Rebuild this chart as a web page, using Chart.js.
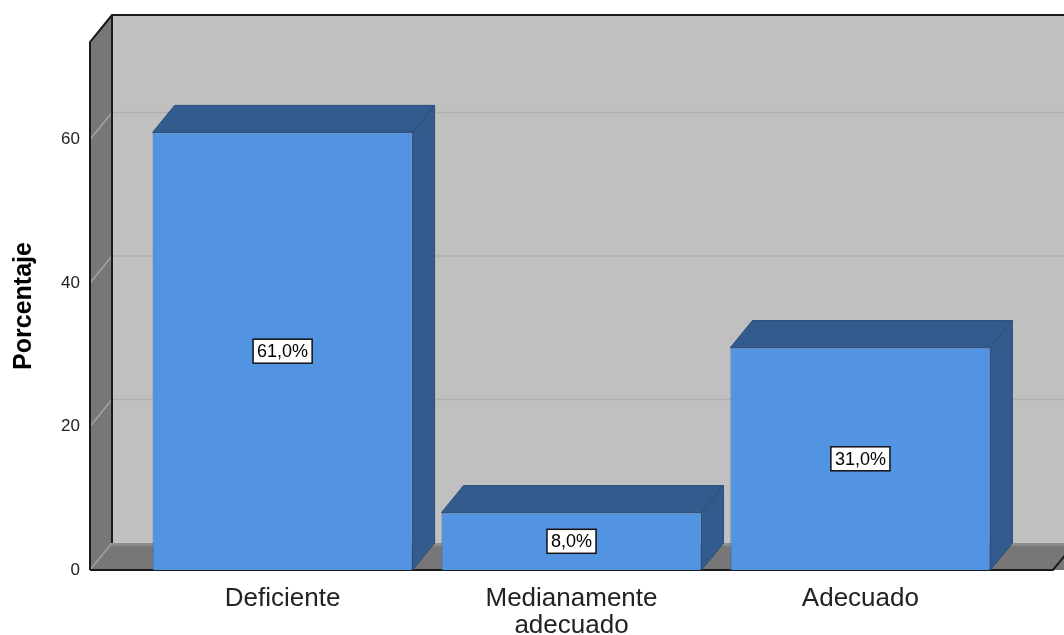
<!DOCTYPE html>
<html>
<head>
<meta charset="utf-8">
<script src="https://cdn.jsdelivr.net/npm/chart.js@4"></script>
<style>
  html, body { margin: 0; padding: 0; background: #fff; }
  #wrap { width: 1064px; height: 635px; }
</style>
</head>
<body>
<div id="wrap"><canvas id="porcentajeChart" width="1064" height="635"></canvas></div>
<script>
const categories = [['Deficiente'], ['Medianamente', 'adecuado'], ['Adecuado']];
const percentages = [61.0, 8.0, 31.0];
const yTicks = [0, 20, 40, 60];

// depth of the fake 3D box (pixels)
const DX = 22, DY = -27;

const frontColor = '#5294e2';
const sideColor = '#335b8e';

const box3d = {
  id: 'box3d',
  beforeDatasetsDraw(chart) {
    const { ctx, chartArea: a, scales: { y } } = chart;
    ctx.save();
    // back wall
    ctx.fillStyle = '#c0c0c0';
    ctx.fillRect(a.left + DX, a.top + DY, a.right - a.left + 20, a.bottom - a.top);
    // left wall
    ctx.fillStyle = '#777777';
    ctx.beginPath();
    ctx.moveTo(a.left, a.top);
    ctx.lineTo(a.left + DX, a.top + DY);
    ctx.lineTo(a.left + DX, a.bottom + DY);
    ctx.lineTo(a.left, a.bottom);
    ctx.closePath();
    ctx.fill();
    // floor
    ctx.beginPath();
    ctx.moveTo(a.left, a.bottom);
    ctx.lineTo(a.left + DX, a.bottom + DY);
    ctx.lineTo(a.right + DX + 20, a.bottom + DY);
    ctx.lineTo(a.right + 20, a.bottom);
    ctx.closePath();
    ctx.fill();
    ctx.fillStyle = '#8c8c8c';
    ctx.fillRect(a.left + DX, a.bottom + DY, a.right - a.left + 20, 3);

    // grid lines
    yTicks.forEach(v => {
      const py = y.getPixelForValue(v);
      ctx.lineWidth = 1.5;
      ctx.strokeStyle = '#a3a3a3';
      ctx.beginPath();
      ctx.moveTo(a.left, py);
      ctx.lineTo(a.left + DX, py + DY);
      ctx.stroke();
      if (v > 0) {
        ctx.strokeStyle = '#b0b0b0';
        ctx.beginPath();
        ctx.moveTo(a.left + DX, py + DY);
        ctx.lineTo(a.right + DX + 20, py + DY);
        ctx.stroke();
      }
    });

    // edges
    ctx.strokeStyle = '#1a1a1a';
    ctx.lineWidth = 2;
    ctx.beginPath();
    ctx.moveTo(a.left, a.bottom);
    ctx.lineTo(a.left, a.top);
    ctx.lineTo(a.left + DX, a.top + DY);
    ctx.lineTo(a.right + DX + 20, a.top + DY);
    ctx.moveTo(a.left + DX, a.top + DY);
    ctx.lineTo(a.left + DX, a.bottom + DY);
    ctx.moveTo(a.left, a.bottom);
    ctx.lineTo(a.right, a.bottom);
    ctx.lineTo(a.right + DX, a.bottom + DY);
    ctx.stroke();
    ctx.restore();
  },
  afterDatasetsDraw(chart) {
    const { ctx, scales: { y } } = chart;
    const meta = chart.getDatasetMeta(0);
    ctx.save();
    meta.data.forEach((bar, i) => {
      const left = bar.x - bar.width / 2;
      const right = bar.x + bar.width / 2;
      ctx.fillStyle = sideColor;
      ctx.strokeStyle = '#2b4d78';
      ctx.lineWidth = 1;
      // top face
      ctx.beginPath();
      ctx.moveTo(left, bar.y);
      ctx.lineTo(left + DX, bar.y + DY);
      ctx.lineTo(right + DX, bar.y + DY);
      ctx.lineTo(right, bar.y);
      ctx.closePath();
      ctx.fill();
      ctx.stroke();
      // side face
      ctx.beginPath();
      ctx.moveTo(right, bar.y);
      ctx.lineTo(right + DX, bar.y + DY);
      ctx.lineTo(right + DX, bar.base + DY);
      ctx.lineTo(right, bar.base);
      ctx.closePath();
      ctx.fill();
      ctx.stroke();

      // value label
      const txt = percentages[i].toFixed(1).replace('.', ',') + '%';
      const ly = y.getPixelForValue(percentages[i] / 2);
      ctx.font = '18px "Liberation Sans", Arial, sans-serif';
      const w = ctx.measureText(txt).width + 8;
      const h = 24;
      ctx.fillStyle = '#ffffff';
      ctx.fillRect(bar.x - w / 2, ly - h / 2, w, h);
      ctx.strokeStyle = '#111';
      ctx.lineWidth = 1.5;
      ctx.strokeRect(bar.x - w / 2, ly - h / 2, w, h);
      ctx.fillStyle = '#000';
      ctx.textAlign = 'center';
      ctx.textBaseline = 'middle';
      ctx.fillText(txt, bar.x, ly + 1);
    });
    ctx.restore();
  }
};

const ctx = document.getElementById('porcentajeChart').getContext('2d');
new Chart(ctx, {
  type: 'bar',
  data: {
    datasets: [{
      data: percentages.map((v, i) => ({ x: i + 1, y: v })),
      backgroundColor: frontColor,
      borderColor: '#3d6fa8',
      borderWidth: 1,
      categoryPercentage: 0.9,
      barPercentage: 1
    }]
  },
  options: {
    responsive: false,
    animation: false,
    layout: { padding: { top: 42, right: 11, left: 0, bottom: 0 } },
    plugins: {
      legend: { display: false },
      tooltip: { enabled: false }
    },
    scales: {
      x: {
        type: 'linear',
        offset: false,
        min: 1 / 3,
        max: 11 / 3,
        afterBuildTicks: scale => { scale.ticks = categories.map((c, i) => ({ value: i + 1 })); },
        afterFit: scale => { scale.height = 65; },
        grid: { display: false, drawTicks: false },
        border: { display: false },
        ticks: {
          callback: v => categories[v - 1],
          color: '#222',
          font: { family: '"Liberation Sans", Arial, sans-serif', size: 26, lineHeight: 1.04 },
          padding: 15,
          maxRotation: 0,
          autoSkip: false
        }
      },
      y: {
        min: 0,
        max: 73.6,
        afterBuildTicks: scale => { scale.ticks = yTicks.map(v => ({ value: v })); },
        afterFit: scale => { scale.width = 90; },
        grid: { display: false, drawTicks: false },
        border: { display: false },
        ticks: {
          color: '#222',
          font: { family: '"Liberation Sans", Arial, sans-serif', size: 17 },
          padding: 10
        },
        title: {
          display: true,
          text: 'Porcentaje',
          color: '#000',
          font: { family: '"Liberation Sans", Arial, sans-serif', size: 25, weight: 'bold' },
          padding: { top: 9, bottom: 0 }
        }
      }
    }
  },
  plugins: [box3d]
});
</script>
</body>
</html>
